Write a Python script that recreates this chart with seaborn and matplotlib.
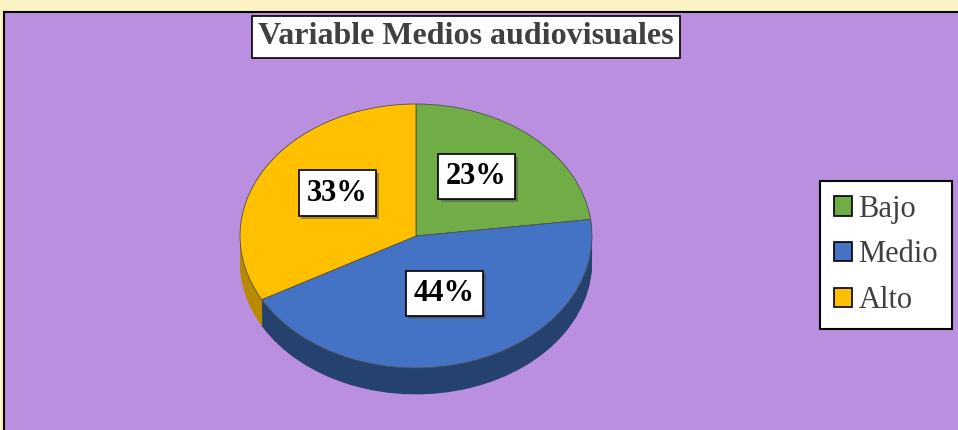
import numpy as np
import matplotlib
matplotlib.use("Agg")
import matplotlib.pyplot as plt
import matplotlib.patheffects as pe
from matplotlib.patches import Patch, Rectangle
import seaborn as sns

# datos
categorias = ["Bajo", "Medio", "Alto"]
porcentajes = [23, 44, 33]
colores = ["#70AD47", "#4472C4", "#FFC000"]
colores_lado = ["#4E7A31", "#25426F", "#B88A00"]
titulo = "Variable Medios audiovisuales"

sns.set_style("white")
plt.rcParams["font.family"] = ["Liberation Serif", "DejaVu Serif"]

fig = plt.figure(figsize=(9.58, 4.30), dpi=100)
fig.patch.set_facecolor("#FBF3C4")

# fondo morado del area del grafico
fondo = Rectangle((4 / 958, -0.05), 1.0, 1 - 12 / 430 + 0.05, transform=fig.transFigure,
                  facecolor="#BA8FDF", edgecolor="black", linewidth=1.5, zorder=-5)
fig.patches.append(fondo)

ax = fig.add_axes([240 / 958, 29 / 430, 352 / 958, 297 / 430])
ax.set_facecolor("none")
ax.set_zorder(2)

# lado 3D: pies apilados hacia abajo
for k in np.linspace(0.2, 0.005, 30):
    ax.pie(porcentajes, colors=colores_lado, startangle=90, counterclock=False,
           center=(0, -k), radius=1, wedgeprops=dict(linewidth=0))

# cara superior
wedges, textos, autotextos = ax.pie(
    porcentajes, colors=colores, startangle=90, counterclock=False,
    radius=1, autopct="%d%%", pctdistance=0.52,
    wedgeprops=dict(edgecolor="#505050", linewidth=0.6),
    textprops=dict(fontsize=22, fontweight="bold", color="black"))

for t in autotextos:
    x, y = t.get_position()
    t.set_position((x, y + 0.06))
    t.set_bbox(dict(boxstyle="square,pad=0.27", facecolor="white", edgecolor="black", linewidth=1.2))
    t.get_bbox_patch().set_path_effects([pe.SimplePatchShadow(offset=(2, -2), alpha=0.5), pe.Normal()])

ax.set_aspect("auto")
ax.set_xlim(-1, 1)
ax.set_ylim(-1.25, 1.0)
ax.axis("off")

# titulo
tt = fig.text(466 / 958, 1 - 37 / 430, titulo, ha="center", va="center", fontsize=23,
              fontweight="bold", color="#404040", zorder=3)
tt.set_bbox(dict(boxstyle="square,pad=0.2", facecolor="white", edgecolor="black", linewidth=1.2))

# leyenda
manejadores = [Patch(facecolor=c, edgecolor="black", linewidth=1.2) for c in colores]
leg = fig.legend(manejadores, categorias, loc="center", bbox_to_anchor=(886 / 958, 1 - 255 / 430),
                 fontsize=22, frameon=True, fancybox=False, framealpha=1, handlelength=0.6,
                 handleheight=0.6, handletextpad=0.2, labelspacing=0.55, borderpad=0.45,
                 borderaxespad=0)
leg.get_frame().set_edgecolor("black")
leg.get_frame().set_linewidth(1.5)
leg.get_frame().set_facecolor("white")
for t in leg.get_texts():
    t.set_color("#404040")

fig.savefig("out.png", dpi=100, facecolor=fig.get_facecolor())
